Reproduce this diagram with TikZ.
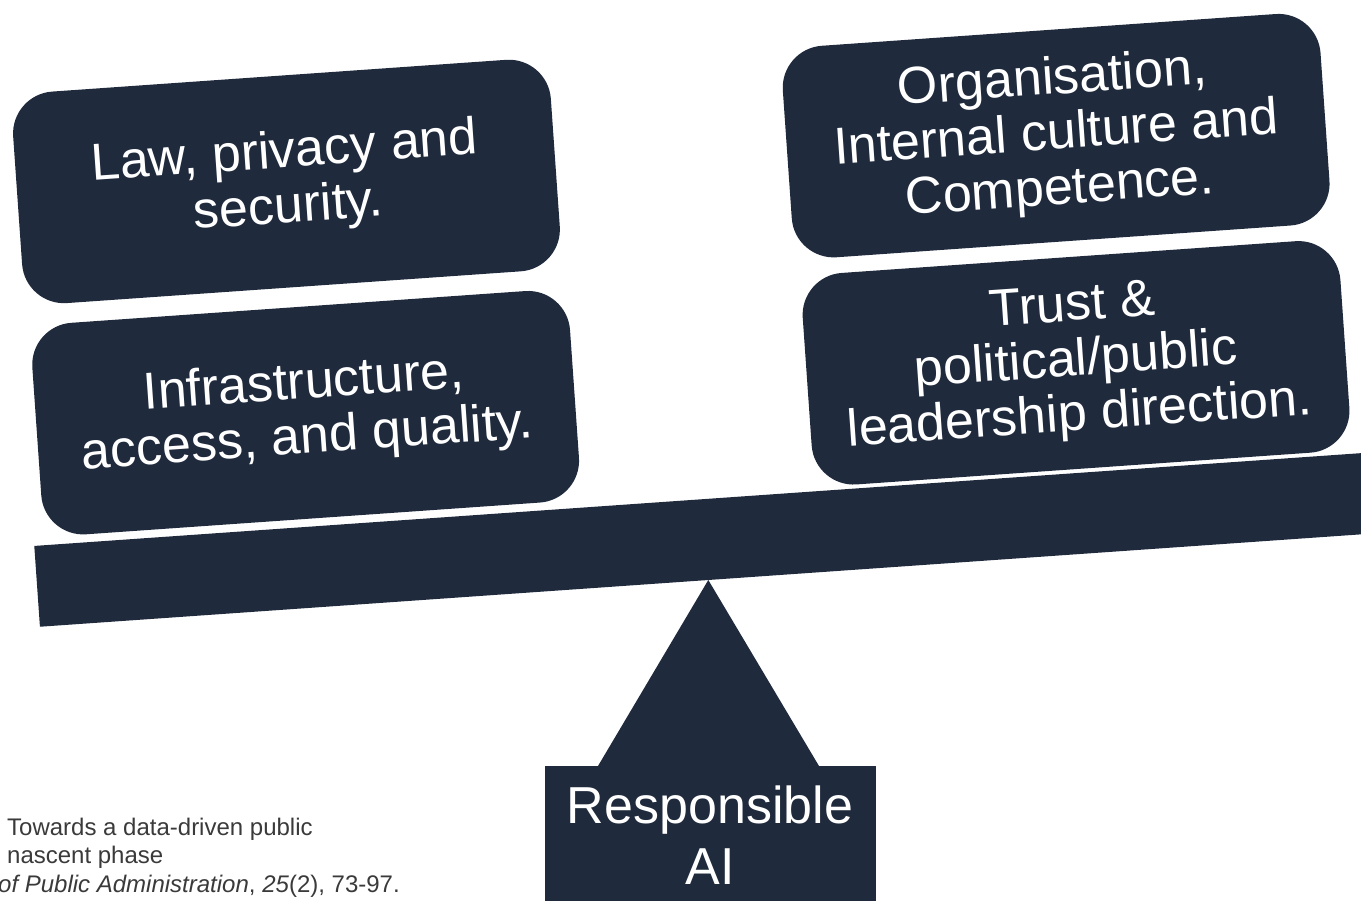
\documentclass[tikz,border=0pt]{standalone}
\usepackage{fontspec}
\setmainfont{Liberation Sans}
\definecolor{scalenavy}{HTML}{1F2A3C}
\definecolor{citegray}{HTML}{3A3A3A}
\tikzset{
	factor/.style={fill=scalenavy, text=white, rounded corners=42pt, minimum width=539pt, minimum height=212pt, inner sep=0pt, align=center, font=\fontsize{52}{55}\selectfont},
}
\begin{document}
\begin{tikzpicture}[x=1pt,y=1pt]
	\useasboundingbox (0,0) rectangle (1361,-901);
	\clip (0,0) rectangle (1361,-901);

	\fill[scalenavy] (708.3,-580) -- (598,-766) -- (819,-766) -- cycle;
	\fill[scalenavy] (545,-766) rectangle (876,-920);
	\node[text=white, align=center, inner sep=0pt, font=\fontsize{52}{61}\selectfont] (ai) at (710,-835) {Responsible\\AI};

	\begin{scope}[shift={(708.3,-580)}, rotate=4, transform shape]
		\fill[scalenavy] (-670,0) rectangle (800,81);
		\node[factor] (law) at (-393,427) {Law, privacy and\\security.};
		\node[factor] (infra) at (-390,195) {Infrastructure,\\access, and quality.};
		\node[factor] (org) at (378,419) {Organisation,\\Internal culture and\\Competence.};
		\node[factor] (trust) at (382,191) {Trust \&\\political/public\\leadership direction.};
	\end{scope}

	\node[anchor=north west, align=left, inner sep=0pt, text=citegray, font=\fontsize{24}{28.5}\selectfont] (cite) at (7,-817.5) {Towards a data-driven public\\nascent phase\\\hspace*{-9pt}\textit{of Public Administration}, \textit{25}(2), 73-97.};
\end{tikzpicture}
\end{document}
